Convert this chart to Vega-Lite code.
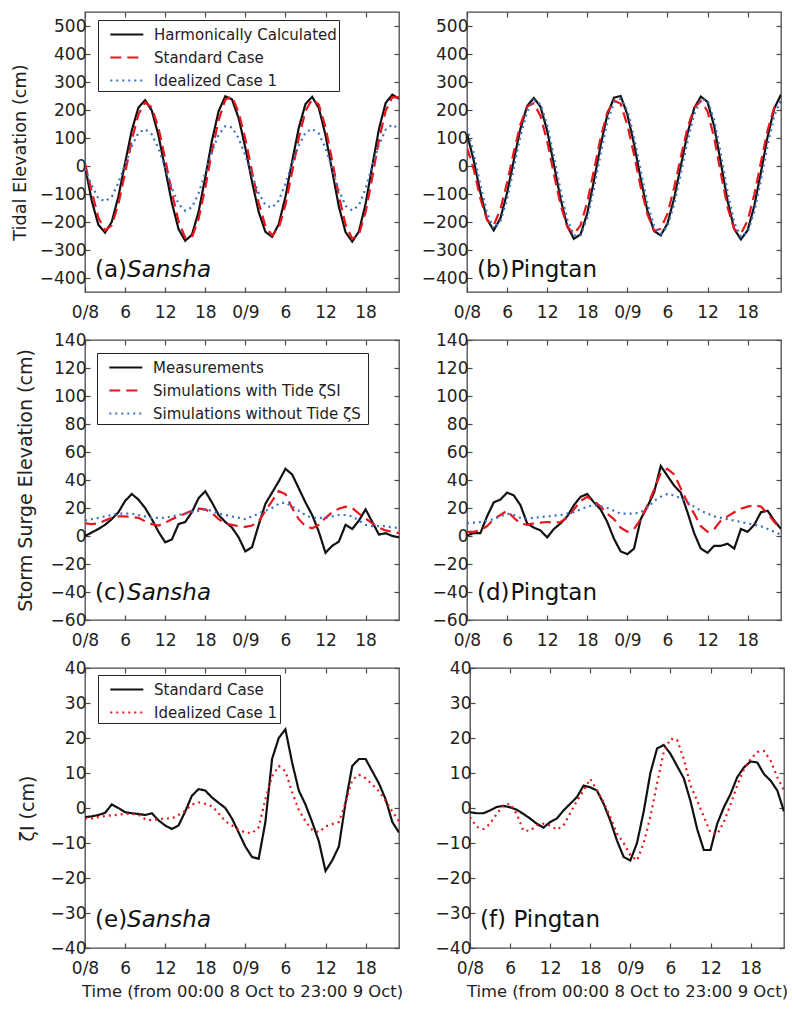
{
  "$schema": "https://vega.github.io/schema/vega-lite/v6.json",
  "padding": {"left": 10, "top": 10, "right": 5, "bottom": 5},
  "datasets": {
    "a": [
      {"t":0,"A":0,"B":10,"C":-10},{"t":1,"A":-123,"B":-90,"C":-68},{"t":2,"A":-210,"B":-184,"C":-116},{"t":3,"A":-238,"B":-230,"C":-126},
      {"t":4,"A":-200,"B":-212,"C":-110},{"t":5,"A":-109,"B":-136,"C":-60},{"t":6,"A":11,"B":-25,"C":6},{"t":7,"A":127,"B":92,"C":70},
      {"t":8,"A":209,"B":184,"C":119},{"t":9,"A":235,"B":227,"C":131},{"t":10,"A":198,"B":209,"C":113},{"t":11,"A":109,"B":136,"C":63},
      {"t":12,"A":-10,"B":26,"C":-6},{"t":13,"A":-131,"B":-95,"C":-79},{"t":14,"A":-225,"B":-197,"C":-135},{"t":15,"A":-267,"B":-256,"C":-160},
      {"t":16,"A":-246,"B":-255,"C":-148},{"t":17,"A":-164,"B":-189,"C":-98},{"t":18,"A":-41,"B":-78,"C":-24},{"t":19,"A":90,"B":51,"C":51},
      {"t":20,"A":196,"B":164,"C":112},{"t":21,"A":249,"B":237,"C":142},{"t":22,"A":238,"B":248,"C":138},{"t":23,"A":171,"B":191,"C":99},
      {"t":24,"A":65,"B":97,"C":38},{"t":25,"A":-56,"B":-20,"C":-33},{"t":26,"A":-164,"B":-132,"C":-97},{"t":27,"A":-235,"B":-214,"C":-139},
      {"t":28,"A":-253,"B":-248,"C":-149},{"t":29,"A":-208,"B":-222,"C":-123},{"t":30,"A":-110,"B":-139,"C":-64},{"t":31,"A":16,"B":-22,"C":9},
      {"t":32,"A":136,"B":100,"C":73},{"t":33,"A":221,"B":196,"C":119},{"t":34,"A":247,"B":239,"C":133},{"t":35,"A":207,"B":219,"C":116},
      {"t":36,"A":110,"B":139,"C":64},{"t":37,"A":-18,"B":20,"C":-11},{"t":38,"A":-145,"B":-107,"C":-87},{"t":39,"A":-236,"B":-209,"C":-142},
      {"t":40,"A":-270,"B":-260,"C":-159},{"t":41,"A":-234,"B":-245,"C":-140},{"t":42,"A":-135,"B":-165,"C":-81},{"t":43,"A":0,"B":-41,"C":0},
      {"t":44,"A":132,"B":92,"C":75},{"t":45,"A":225,"B":197,"C":130},{"t":46,"A":255,"B":246,"C":148},{"t":47,"A":240,"B":245,"C":132}
    ],
    "b": [
      {"t":0,"A":115,"B":65,"C":136},{"t":1,"A":20,"B":-11,"C":45},{"t":2,"A":-95,"B":-116,"C":-67},{"t":3,"A":-190,"B":-193,"C":-168},
      {"t":4,"A":-230,"B":-212,"C":-223},{"t":5,"A":-187,"B":-154,"C":-198},{"t":6,"A":-96,"B":-60,"C":-118},{"t":7,"A":20,"B":50,"C":-8},
      {"t":8,"A":133,"B":149,"C":106},{"t":9,"A":214,"B":212,"C":194},{"t":10,"A":243,"B":224,"C":236},{"t":11,"A":212,"B":179,"C":220},
      {"t":12,"A":126,"B":88,"C":147},{"t":13,"A":6,"B":-28,"C":35},{"t":14,"A":-117,"B":-138,"C":-87},{"t":15,"A":-214,"B":-216,"C":-190},
      {"t":16,"A":-260,"B":-243,"C":-248},{"t":17,"A":-244,"B":-212,"C":-247},{"t":18,"A":-169,"B":-129,"C":-187},{"t":19,"A":-53,"B":-15,"C":-81},
      {"t":20,"A":74,"B":101,"C":44},{"t":21,"A":182,"B":191,"C":156},{"t":22,"A":244,"B":234,"C":228},{"t":23,"A":250,"B":222,"C":240},
      {"t":24,"A":184,"B":146,"C":199},{"t":25,"A":79,"B":41,"C":105},{"t":26,"A":-46,"B":-75,"C":-15},{"t":27,"A":-159,"B":-172,"C":-132},
      {"t":28,"A":-232,"B":-232,"C":-214},{"t":29,"A":-248,"B":-224,"C":-243},{"t":30,"A":-206,"B":-171,"C":-216},{"t":31,"A":-116,"B":-78,"C":-138},
      {"t":32,"A":0,"B":32,"C":-28},{"t":33,"A":116,"B":135,"C":87},{"t":34,"A":206,"B":208,"C":184},{"t":35,"A":248,"B":231,"C":238},
      {"t":36,"A":229,"B":196,"C":235},{"t":37,"A":142,"B":100,"C":164},{"t":38,"A":11,"B":-27,"C":43},{"t":39,"A":-124,"B":-147,"C":-92},
      {"t":40,"A":-225,"B":-226,"C":-202},{"t":41,"A":-262,"B":-242,"C":-253},{"t":42,"A":-230,"B":-195,"C":-238},{"t":43,"A":-143,"B":-103,"C":-164},
      {"t":44,"A":-22,"B":14,"C":-51},{"t":45,"A":105,"B":128,"C":74},{"t":46,"A":206,"B":210,"C":181},{"t":47,"A":255,"B":228,"C":236}
    ],
    "c": [
      {"t":0,"A":0,"B":9,"C":11},{"t":1,"A":2.5,"B":8.5,"C":12},{"t":2,"A":5,"B":9,"C":13},{"t":3,"A":8,"B":11,"C":14},
      {"t":4,"A":12,"B":13,"C":15},{"t":5,"A":17,"B":14,"C":16},{"t":6,"A":25,"B":14,"C":16},{"t":7,"A":30,"B":13.5,"C":16},
      {"t":8,"A":26,"B":13,"C":15},{"t":9,"A":20,"B":10.5,"C":14},{"t":10,"A":12,"B":8.5,"C":13},{"t":11,"A":3,"B":7.5,"C":13},
      {"t":12,"A":-4.5,"B":9.5,"C":13},{"t":13,"A":-2.5,"B":12,"C":14},{"t":14,"A":8.5,"B":14,"C":15},{"t":15,"A":10,"B":16,"C":16},
      {"t":16,"A":17,"B":18,"C":17},{"t":17,"A":27,"B":19.5,"C":18},{"t":18,"A":32,"B":19,"C":19},{"t":19,"A":24,"B":16.5,"C":18},
      {"t":20,"A":15,"B":12,"C":16},{"t":21,"A":10,"B":9,"C":15},{"t":22,"A":6,"B":8,"C":14},{"t":23,"A":-1,"B":7,"C":13},
      {"t":24,"A":-11,"B":6.5,"C":12},{"t":25,"A":-8,"B":7.5,"C":14},{"t":26,"A":8,"B":10.5,"C":16},{"t":27,"A":23,"B":18,"C":18},
      {"t":28,"A":31,"B":25,"C":20},{"t":29,"A":39,"B":32,"C":23},{"t":30,"A":48,"B":30,"C":24},{"t":31,"A":44,"B":20,"C":21},
      {"t":32,"A":34,"B":12,"C":18},{"t":33,"A":24,"B":7,"C":15},{"t":34,"A":15,"B":5.5,"C":13},{"t":35,"A":3,"B":8,"C":13},
      {"t":36,"A":-12,"B":13,"C":13},{"t":37,"A":-7,"B":17,"C":14},{"t":38,"A":-4,"B":19.5,"C":15},{"t":39,"A":8,"B":21,"C":15},
      {"t":40,"A":5,"B":20,"C":14},{"t":41,"A":11,"B":16,"C":11},{"t":42,"A":19,"B":12.5,"C":8},{"t":43,"A":10,"B":9,"C":7},
      {"t":44,"A":1,"B":6,"C":7},{"t":45,"A":2,"B":4,"C":7},{"t":46,"A":0,"B":3,"C":6},{"t":47,"A":-1,"B":2,"C":6}
    ],
    "d": [
      {"t":0,"A":0.5,"B":3,"C":9},{"t":1,"A":2,"B":3,"C":9.5},{"t":2,"A":2,"B":4,"C":10},{"t":3,"A":14,"B":7,"C":11},
      {"t":4,"A":24,"B":12,"C":12},{"t":5,"A":26,"B":15,"C":14},{"t":6,"A":31,"B":18,"C":16},{"t":7,"A":29,"B":13,"C":15},
      {"t":8,"A":22,"B":9,"C":13},{"t":9,"A":9,"B":8,"C":12.5},{"t":10,"A":6,"B":9,"C":13},{"t":11,"A":4,"B":9.5,"C":13.5},
      {"t":12,"A":-1,"B":10,"C":14},{"t":13,"A":5,"B":9.5,"C":14.5},{"t":14,"A":9,"B":10,"C":15},{"t":15,"A":14,"B":13,"C":16},
      {"t":16,"A":22,"B":19,"C":17},{"t":17,"A":28,"B":25,"C":19},{"t":18,"A":30,"B":28,"C":21},{"t":19,"A":24,"B":25,"C":22},
      {"t":20,"A":19,"B":21,"C":21},{"t":21,"A":10,"B":16,"C":20},{"t":22,"A":-2,"B":12,"C":18},{"t":23,"A":-11,"B":6,"C":16},
      {"t":24,"A":-13,"B":3,"C":16},{"t":25,"A":-9,"B":5,"C":16},{"t":26,"A":12,"B":12,"C":17},{"t":27,"A":21,"B":22,"C":20},
      {"t":28,"A":31,"B":33,"C":25},{"t":29,"A":50,"B":45,"C":28},{"t":30,"A":43,"B":48,"C":30},{"t":31,"A":36,"B":44,"C":29},
      {"t":32,"A":31,"B":34,"C":27},{"t":33,"A":17,"B":24,"C":24},{"t":34,"A":2,"B":16,"C":21},{"t":35,"A":-9,"B":7,"C":18},
      {"t":36,"A":-12,"B":3,"C":16},{"t":37,"A":-7,"B":5,"C":14},{"t":38,"A":-7,"B":11,"C":13},{"t":39,"A":-5.5,"B":14,"C":12},
      {"t":40,"A":-9,"B":17,"C":11},{"t":41,"A":5,"B":19.5,"C":10},{"t":42,"A":3,"B":21,"C":9},{"t":43,"A":8,"B":22,"C":8},
      {"t":44,"A":17,"B":21,"C":7},{"t":45,"A":18,"B":16,"C":5},{"t":46,"A":11,"B":10,"C":3},{"t":47,"A":5,"B":5,"C":1}
    ],
    "e": [
      {"t":0,"A":-2.6,"B":-3},{"t":1,"A":-2.4,"B":-3},{"t":2,"A":-2,"B":-2.6},{"t":3,"A":-1.4,"B":-2.3},
      {"t":4,"A":1,"B":-2.1},{"t":5,"A":0,"B":-1.9},{"t":6,"A":-1.2,"B":-1.7},{"t":7,"A":-1.5,"B":-1.7},
      {"t":8,"A":-1.7,"B":-1.9},{"t":9,"A":-2,"B":-3.2},{"t":10,"A":-1.5,"B":-3.5},{"t":11,"A":-3.5,"B":-3.2},
      {"t":12,"A":-5,"B":-3},{"t":13,"A":-6,"B":-3},{"t":14,"A":-5,"B":-2},{"t":15,"A":-1,"B":-0.8},
      {"t":16,"A":3.5,"B":1},{"t":17,"A":5.4,"B":1.6},{"t":18,"A":5,"B":1.2},{"t":19,"A":3,"B":0.5},
      {"t":20,"A":1.5,"B":-1.5},{"t":21,"A":0,"B":-3.8},{"t":22,"A":-3,"B":-5},{"t":23,"A":-7,"B":-6.2},
      {"t":24,"A":-11,"B":-7},{"t":25,"A":-14,"B":-7.2},{"t":26,"A":-14.5,"B":-5.5},{"t":27,"A":-4,"B":2.5},
      {"t":28,"A":14,"B":9},{"t":29,"A":20,"B":12},{"t":30,"A":22.5,"B":10.5},{"t":31,"A":13,"B":4.5},
      {"t":32,"A":5,"B":-0.5},{"t":33,"A":1,"B":-3.8},{"t":34,"A":-4,"B":-6.2},{"t":35,"A":-9.5,"B":-6.9},
      {"t":36,"A":-18,"B":-5.3},{"t":37,"A":-15,"B":-4.6},{"t":38,"A":-11,"B":-4},{"t":39,"A":1.5,"B":1.5},
      {"t":40,"A":12,"B":8},{"t":41,"A":14,"B":9.5},{"t":42,"A":14,"B":8.5},{"t":43,"A":10.5,"B":6.7},
      {"t":44,"A":7,"B":4.8},{"t":45,"A":2.5,"B":2},{"t":46,"A":-4,"B":-1},{"t":47,"A":-7,"B":-3.8}
    ],
    "f": [
      {"t":0,"A":-1.2,"B":-2.6},{"t":1,"A":-1.5,"B":-5.4},{"t":2,"A":-1.5,"B":-6},{"t":3,"A":-0.7,"B":-4.5},
      {"t":4,"A":0.3,"B":-1.7},{"t":5,"A":0.6,"B":0.7},{"t":6,"A":0.2,"B":1.2},{"t":7,"A":-0.5,"B":-1.7},
      {"t":8,"A":-1.7,"B":-6.5},{"t":9,"A":-3,"B":-6.5},{"t":10,"A":-4.5,"B":-5},{"t":11,"A":-5.6,"B":-4.5},
      {"t":12,"A":-4,"B":-5},{"t":13,"A":-3,"B":-6.2},{"t":14,"A":-0.7,"B":-5},{"t":15,"A":1.2,"B":-1.5},
      {"t":16,"A":3.1,"B":2},{"t":17,"A":6.4,"B":5},{"t":18,"A":5.9,"B":8.3},{"t":19,"A":5,"B":5},
      {"t":20,"A":1.2,"B":1.7},{"t":21,"A":-3.6,"B":-2.6},{"t":22,"A":-9.3,"B":-7.3},{"t":23,"A":-14,"B":-10},
      {"t":24,"A":-15,"B":-13.5},{"t":25,"A":-10,"B":-15},{"t":26,"A":-1,"B":-10},{"t":27,"A":10,"B":-2.5},
      {"t":28,"A":17,"B":7},{"t":29,"A":18,"B":16},{"t":30,"A":15.5,"B":19.8},{"t":31,"A":12,"B":19.5},
      {"t":32,"A":8.5,"B":14},{"t":33,"A":2,"B":6.5},{"t":34,"A":-6,"B":2.1},{"t":35,"A":-12,"B":-2.5},
      {"t":36,"A":-12,"B":-7},{"t":37,"A":-4.5,"B":-7.5},{"t":38,"A":0.2,"B":-4},{"t":39,"A":4,"B":1},
      {"t":40,"A":8.8,"B":6.5},{"t":41,"A":11.6,"B":11},{"t":42,"A":13.3,"B":14},{"t":43,"A":13,"B":16},
      {"t":44,"A":9.7,"B":16.3},{"t":45,"A":7.8,"B":13.5},{"t":46,"A":5,"B":8.8},{"t":47,"A":-1,"B":5}
    ]
  },
  "resolve": {"scale": {"color": "independent", "strokeDash": "independent"}},
  "spacing": 5,
  "vconcat": [
    {
      "spacing": 19,
      "resolve": {"scale": {"color": "independent", "strokeDash": "independent"}},
      "hconcat": [
        {
          "width": 314, "height": 280,
          "resolve": {"axis": {"x": "independent", "y": "independent"}},
          "layer": [
            {
              "data": {"name": "a"},
              "transform": [{"fold": ["A", "B", "C"], "as": ["s", "v"]}],
              "mark": {"type": "line", "clip": true, "strokeWidth": 2.2},
              "encoding": {
                "x": {"field": "t", "type": "quantitative", "scale": {"domain": [0, 47], "nice": false, "zero": false},
                  "axis": {"orient": "bottom", "values": [0, 6, 12, 18, 24, 30, 36, 42], "labelExpr": "datum.value == 0 ? '0/8' : datum.value == 24 ? '0/9' : '' + (datum.value % 24)", "title": null}},
                "y": {"field": "v", "type": "quantitative", "scale": {"domain": [-450, 550], "nice": false, "zero": false},
                  "axis": {"orient": "left", "values": [-400, -300, -200, -100, 0, 100, 200, 300, 400, 500], "title": "Tidal Elevation (cm)", "titleFontSize": 17.7, "titlePadding": 10}},
                "color": {"field": "s", "type": "nominal", "scale": {"domain": ["A", "B", "C"], "range": ["#111111", "#e8161d", "#3a72c4"]},
                  "legend": {"title": null, "orient": "none", "legendX": 13, "legendY": 8, "padding": 2, "rowPadding": 2, "strokeColor": "#222222", "fillColor": "white", "symbolType": "M-0.2,0H2.8", "symbolSize": 484, "symbolStrokeWidth": 2.2, "labelOffset": 29, "labelLimit": 400, "labelFontSize": 15, "labelFont": "DejaVu Sans", "labelColor": "#222222",
                    "labelExpr": "datum.label == 'A' ? 'Harmonically Calculated' : datum.label == 'B' ? 'Standard Case' : 'Idealized Case 1'"}},
                "strokeDash": {"field": "s", "type": "nominal", "scale": {"domain": ["A", "B", "C"], "range": [[1, 0], [11, 6], [2, 4]]},
                  "legend": {"title": null, "orient": "none", "legendX": 13, "legendY": 8, "padding": 2, "rowPadding": 2, "strokeColor": "#222222", "fillColor": "white", "symbolType": "M-0.2,0H2.8", "symbolSize": 484, "symbolStrokeWidth": 2.2, "labelOffset": 29, "labelLimit": 400, "labelFontSize": 15, "labelFont": "DejaVu Sans", "labelColor": "#222222",
                    "labelExpr": "datum.label == 'A' ? 'Harmonically Calculated' : datum.label == 'B' ? 'Standard Case' : 'Idealized Case 1'"}}
              }
            },
            {
              "data": {"values": [{}]},
              "mark": {"type": "text", "text": "(a)", "font": "DejaVu Sans", "fontSize": 23, "align": "left", "baseline": "alphabetic", "color": "#111111"},
              "encoding": {
                "x": {"datum": 1.5, "type": "quantitative", "axis": {"orient": "top", "values": [0, 6, 12, 18, 24, 30, 36, 42], "title": null}},
                "y": {"datum": -398, "type": "quantitative", "axis": {"orient": "right", "values": [-400, -300, -200, -100, 0, 100, 200, 300, 400, 500], "title": null}}
              }
            },
            {
              "data": {"values": [{}]},
              "mark": {"type": "text", "text": "Sansha", "font": "DejaVu Sans", "fontStyle": "italic", "fontSize": 23, "align": "left", "baseline": "alphabetic", "color": "#111111"},
              "encoding": {
                "x": {"datum": 6.3, "type": "quantitative", "axis": null},
                "y": {"datum": -398, "type": "quantitative", "axis": null}
              }
            }
          ]
        },
        {
          "width": 314, "height": 280,
          "resolve": {"axis": {"x": "independent", "y": "independent"}},
          "layer": [
            {
              "data": {"name": "b"},
              "transform": [{"fold": ["A", "B", "C"], "as": ["s", "v"]}],
              "mark": {"type": "line", "clip": true, "strokeWidth": 2.2},
              "encoding": {
                "x": {"field": "t", "type": "quantitative", "scale": {"domain": [0, 47], "nice": false, "zero": false},
                  "axis": {"orient": "bottom", "values": [0, 6, 12, 18, 24, 30, 36, 42], "labelExpr": "datum.value == 0 ? '0/8' : datum.value == 24 ? '0/9' : '' + (datum.value % 24)", "title": null}},
                "y": {"field": "v", "type": "quantitative", "scale": {"domain": [-450, 550], "nice": false, "zero": false},
                  "axis": {"orient": "left", "values": [-400, -300, -200, -100, 0, 100, 200, 300, 400, 500], "title": null}},
                "color": {"field": "s", "type": "nominal", "scale": {"domain": ["A", "B", "C"], "range": ["#111111", "#e8161d", "#3a72c4"]}, "legend": null},
                "strokeDash": {"field": "s", "type": "nominal", "scale": {"domain": ["A", "B", "C"], "range": [[1, 0], [11, 6], [2, 4]]}, "legend": null}
              }
            },
            {
              "data": {"values": [{}]},
              "mark": {"type": "text", "text": "(b)", "font": "DejaVu Sans", "fontSize": 23, "align": "left", "baseline": "alphabetic", "color": "#111111"},
              "encoding": {
                "x": {"datum": 1.5, "type": "quantitative", "axis": {"orient": "top", "values": [0, 6, 12, 18, 24, 30, 36, 42], "title": null}},
                "y": {"datum": -398, "type": "quantitative", "axis": {"orient": "right", "values": [-400, -300, -200, -100, 0, 100, 200, 300, 400, 500], "title": null}}
              }
            },
            {
              "data": {"values": [{}]},
              "mark": {"type": "text", "text": "Pingtan", "font": "DejaVu Sans", "fontSize": 23, "align": "left", "baseline": "alphabetic", "color": "#111111"},
              "encoding": {
                "x": {"datum": 6.5, "type": "quantitative", "axis": null},
                "y": {"datum": -398, "type": "quantitative", "axis": null}
              }
            }
          ]
        }
      ]
    },
    {
      "spacing": 19,
      "resolve": {"scale": {"color": "independent", "strokeDash": "independent"}},
      "hconcat": [
        {
          "width": 314, "height": 280,
          "resolve": {"axis": {"x": "independent", "y": "independent"}},
          "layer": [
            {
              "data": {"name": "c"},
              "transform": [{"fold": ["A", "B", "C"], "as": ["s", "v"]}],
              "mark": {"type": "line", "clip": true, "strokeWidth": 2.2},
              "encoding": {
                "x": {"field": "t", "type": "quantitative", "scale": {"domain": [0, 47], "nice": false, "zero": false},
                  "axis": {"orient": "bottom", "values": [0, 6, 12, 18, 24, 30, 36, 42], "labelExpr": "datum.value == 0 ? '0/8' : datum.value == 24 ? '0/9' : '' + (datum.value % 24)", "title": null}},
                "y": {"field": "v", "type": "quantitative", "scale": {"domain": [-60, 140], "nice": false, "zero": false},
                  "axis": {"orient": "left", "values": [-60, -40, -20, 0, 20, 40, 60, 80, 100, 120, 140], "title": "Storm Surge Elevation (cm)", "titleFontSize": 19, "titlePadding": 4}},
                "color": {"field": "s", "type": "nominal", "scale": {"domain": ["A", "B", "C"], "range": ["#111111", "#e8161d", "#3a72c4"]},
                  "legend": {"title": null, "orient": "none", "legendX": 12, "legendY": 13, "padding": 2, "rowPadding": 2, "strokeColor": "#222222", "fillColor": "white", "symbolType": "M-0.2,0H2.8", "symbolSize": 484, "symbolStrokeWidth": 2.2, "labelOffset": 29, "labelLimit": 400, "labelFontSize": 15, "labelFont": "DejaVu Sans", "labelColor": "#222222",
                    "labelExpr": "datum.label == 'A' ? 'Measurements' : datum.label == 'B' ? 'Simulations with Tide  ζSI' : 'Simulations without Tide  ζS'"}},
                "strokeDash": {"field": "s", "type": "nominal", "scale": {"domain": ["A", "B", "C"], "range": [[1, 0], [11, 6], [2, 4]]},
                  "legend": {"title": null, "orient": "none", "legendX": 12, "legendY": 13, "padding": 2, "rowPadding": 2, "strokeColor": "#222222", "fillColor": "white", "symbolType": "M-0.2,0H2.8", "symbolSize": 484, "symbolStrokeWidth": 2.2, "labelOffset": 29, "labelLimit": 400, "labelFontSize": 15, "labelFont": "DejaVu Sans", "labelColor": "#222222",
                    "labelExpr": "datum.label == 'A' ? 'Measurements' : datum.label == 'B' ? 'Simulations with Tide  ζSI' : 'Simulations without Tide  ζS'"}}
              }
            },
            {
              "data": {"values": [{}]},
              "mark": {"type": "text", "text": "(c)", "font": "DejaVu Sans", "fontSize": 23, "align": "left", "baseline": "alphabetic", "color": "#111111"},
              "encoding": {
                "x": {"datum": 1.5, "type": "quantitative", "axis": {"orient": "top", "values": [0, 6, 12, 18, 24, 30, 36, 42], "title": null}},
                "y": {"datum": -46, "type": "quantitative", "axis": {"orient": "right", "values": [-60, -40, -20, 0, 20, 40, 60, 80, 100, 120, 140], "title": null}}
              }
            },
            {
              "data": {"values": [{}]},
              "mark": {"type": "text", "text": "Sansha", "font": "DejaVu Sans", "fontStyle": "italic", "fontSize": 23, "align": "left", "baseline": "alphabetic", "color": "#111111"},
              "encoding": {
                "x": {"datum": 6.3, "type": "quantitative", "axis": null},
                "y": {"datum": -46, "type": "quantitative", "axis": null}
              }
            }
          ]
        },
        {
          "width": 314, "height": 280,
          "resolve": {"axis": {"x": "independent", "y": "independent"}},
          "layer": [
            {
              "data": {"name": "d"},
              "transform": [{"fold": ["A", "B", "C"], "as": ["s", "v"]}],
              "mark": {"type": "line", "clip": true, "strokeWidth": 2.2},
              "encoding": {
                "x": {"field": "t", "type": "quantitative", "scale": {"domain": [0, 47], "nice": false, "zero": false},
                  "axis": {"orient": "bottom", "values": [0, 6, 12, 18, 24, 30, 36, 42], "labelExpr": "datum.value == 0 ? '0/8' : datum.value == 24 ? '0/9' : '' + (datum.value % 24)", "title": null}},
                "y": {"field": "v", "type": "quantitative", "scale": {"domain": [-60, 140], "nice": false, "zero": false},
                  "axis": {"orient": "left", "values": [-60, -40, -20, 0, 20, 40, 60, 80, 100, 120, 140], "title": null}},
                "color": {"field": "s", "type": "nominal", "scale": {"domain": ["A", "B", "C"], "range": ["#111111", "#e8161d", "#3a72c4"]}, "legend": null},
                "strokeDash": {"field": "s", "type": "nominal", "scale": {"domain": ["A", "B", "C"], "range": [[1, 0], [11, 6], [2, 4]]}, "legend": null}
              }
            },
            {
              "data": {"values": [{}]},
              "mark": {"type": "text", "text": "(d)", "font": "DejaVu Sans", "fontSize": 23, "align": "left", "baseline": "alphabetic", "color": "#111111"},
              "encoding": {
                "x": {"datum": 1.5, "type": "quantitative", "axis": {"orient": "top", "values": [0, 6, 12, 18, 24, 30, 36, 42], "title": null}},
                "y": {"datum": -46, "type": "quantitative", "axis": {"orient": "right", "values": [-60, -40, -20, 0, 20, 40, 60, 80, 100, 120, 140], "title": null}}
              }
            },
            {
              "data": {"values": [{}]},
              "mark": {"type": "text", "text": "Pingtan", "font": "DejaVu Sans", "fontSize": 23, "align": "left", "baseline": "alphabetic", "color": "#111111"},
              "encoding": {
                "x": {"datum": 6.5, "type": "quantitative", "axis": null},
                "y": {"datum": -46, "type": "quantitative", "axis": null}
              }
            }
          ]
        }
      ]
    },
    {
      "spacing": 19,
      "resolve": {"scale": {"color": "independent", "strokeDash": "independent"}},
      "hconcat": [
        {
          "width": 314, "height": 280,
          "resolve": {"axis": {"x": "independent", "y": "independent"}},
          "layer": [
            {
              "data": {"name": "e"},
              "transform": [{"fold": ["A", "B"], "as": ["s", "v"]}],
              "mark": {"type": "line", "clip": true, "strokeWidth": 2.2},
              "encoding": {
                "x": {"field": "t", "type": "quantitative", "scale": {"domain": [0, 47], "nice": false, "zero": false},
                  "axis": {"orient": "bottom", "values": [0, 6, 12, 18, 24, 30, 36, 42], "labelExpr": "datum.value == 0 ? '0/8' : datum.value == 24 ? '0/9' : '' + (datum.value % 24)", "title": "Time (from 00:00 8 Oct to 23:00 9 Oct)"}},
                "y": {"field": "v", "type": "quantitative", "scale": {"domain": [-40, 40], "nice": false, "zero": false},
                  "axis": {"orient": "left", "values": [-40, -30, -20, -10, 0, 10, 20, 30, 40], "title": "ζI  (cm)", "titleFontSize": 19, "titlePadding": 2}},
                "color": {"field": "s", "type": "nominal", "scale": {"domain": ["A", "B"], "range": ["#111111", "#e8161d"]},
                  "legend": {"title": null, "orient": "none", "legendX": 13, "legendY": 7, "padding": 2, "rowPadding": 2, "strokeColor": "#222222", "fillColor": "white", "symbolType": "M-0.2,0H2.8", "symbolSize": 484, "symbolStrokeWidth": 2.2, "labelOffset": 29, "labelLimit": 400, "labelFontSize": 15, "labelFont": "DejaVu Sans", "labelColor": "#222222",
                    "labelExpr": "datum.label == 'A' ? 'Standard Case' : 'Idealized Case 1'"}},
                "strokeDash": {"field": "s", "type": "nominal", "scale": {"domain": ["A", "B"], "range": [[1, 0], [2, 4]]},
                  "legend": {"title": null, "orient": "none", "legendX": 13, "legendY": 7, "padding": 2, "rowPadding": 2, "strokeColor": "#222222", "fillColor": "white", "symbolType": "M-0.2,0H2.8", "symbolSize": 484, "symbolStrokeWidth": 2.2, "labelOffset": 29, "labelLimit": 400, "labelFontSize": 15, "labelFont": "DejaVu Sans", "labelColor": "#222222",
                    "labelExpr": "datum.label == 'A' ? 'Standard Case' : 'Idealized Case 1'"}}
              }
            },
            {
              "data": {"values": [{}]},
              "mark": {"type": "text", "text": "(e)", "font": "DejaVu Sans", "fontSize": 23, "align": "left", "baseline": "alphabetic", "color": "#111111"},
              "encoding": {
                "x": {"datum": 1.5, "type": "quantitative", "axis": {"orient": "top", "values": [0, 6, 12, 18, 24, 30, 36, 42], "title": null}},
                "y": {"datum": -34, "type": "quantitative", "axis": {"orient": "right", "values": [-40, -30, -20, -10, 0, 10, 20, 30, 40], "title": null}}
              }
            },
            {
              "data": {"values": [{}]},
              "mark": {"type": "text", "text": "Sansha", "font": "DejaVu Sans", "fontStyle": "italic", "fontSize": 23, "align": "left", "baseline": "alphabetic", "color": "#111111"},
              "encoding": {
                "x": {"datum": 6.3, "type": "quantitative", "axis": null},
                "y": {"datum": -34, "type": "quantitative", "axis": null}
              }
            }
          ]
        },
        {
          "width": 314, "height": 280,
          "resolve": {"axis": {"x": "independent", "y": "independent"}},
          "layer": [
            {
              "data": {"name": "f"},
              "transform": [{"fold": ["A", "B"], "as": ["s", "v"]}],
              "mark": {"type": "line", "clip": true, "strokeWidth": 2.2},
              "encoding": {
                "x": {"field": "t", "type": "quantitative", "scale": {"domain": [0, 47], "nice": false, "zero": false},
                  "axis": {"orient": "bottom", "values": [0, 6, 12, 18, 24, 30, 36, 42], "labelExpr": "datum.value == 0 ? '0/8' : datum.value == 24 ? '0/9' : '' + (datum.value % 24)", "title": "Time (from 00:00 8 Oct to 23:00 9 Oct)"}},
                "y": {"field": "v", "type": "quantitative", "scale": {"domain": [-40, 40], "nice": false, "zero": false},
                  "axis": {"orient": "left", "values": [-40, -30, -20, -10, 0, 10, 20, 30, 40], "title": null}},
                "color": {"field": "s", "type": "nominal", "scale": {"domain": ["A", "B"], "range": ["#111111", "#e8161d"]}, "legend": null},
                "strokeDash": {"field": "s", "type": "nominal", "scale": {"domain": ["A", "B"], "range": [[1, 0], [2, 4]]}, "legend": null}
              }
            },
            {
              "data": {"values": [{}]},
              "mark": {"type": "text", "text": "(f)", "font": "DejaVu Sans", "fontSize": 23, "align": "left", "baseline": "alphabetic", "color": "#111111"},
              "encoding": {
                "x": {"datum": 1.5, "type": "quantitative", "axis": {"orient": "top", "values": [0, 6, 12, 18, 24, 30, 36, 42], "title": null}},
                "y": {"datum": -34, "type": "quantitative", "axis": {"orient": "right", "values": [-40, -30, -20, -10, 0, 10, 20, 30, 40], "title": null}}
              }
            },
            {
              "data": {"values": [{}]},
              "mark": {"type": "text", "text": "Pingtan", "font": "DejaVu Sans", "fontSize": 23, "align": "left", "baseline": "alphabetic", "color": "#111111"},
              "encoding": {
                "x": {"datum": 6.5, "type": "quantitative", "axis": null},
                "y": {"datum": -34, "type": "quantitative", "axis": null}
              }
            }
          ]
        }
      ]
    }
  ],
  "config": {
    "font": "DejaVu Sans",
    "view": {"stroke": "#4a4a4a", "strokeWidth": 1.3},
    "axis": {"grid": false, "domain": false, "tickColor": "#4a4a4a", "tickSize": -5, "tickWidth": 1.2, "labelFont": "DejaVu Sans", "labelFontSize": 17, "labelColor": "#222222", "titleFont": "DejaVu Sans", "titleFontSize": 16.4, "titleFontWeight": "normal", "titleColor": "#222222", "labelFlush": false, "labelOverlap": false},
    "axisBottom": {"labelPadding": 17, "minExtent": 32, "maxExtent": 32, "titlePadding": 3},
    "axisLeft": {"labelPadding": 4, "minExtent": 46, "maxExtent": 46},
    "axisTop": {"labels": false, "minExtent": 0, "maxExtent": 0},
    "axisRight": {"labels": false, "minExtent": 0, "maxExtent": 0}
  }
}
